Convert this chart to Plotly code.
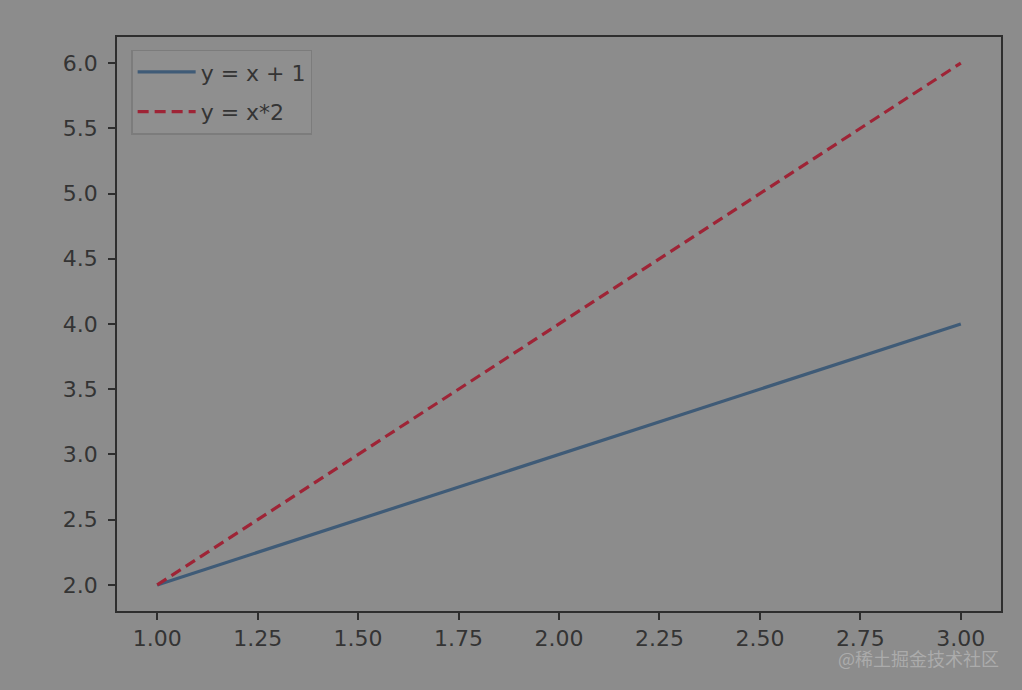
import plotly.graph_objects as go

x_vals = [1, 2, 3]
y_line1 = [2, 3, 4]
y_line2 = [2, 4, 6]
names = ["y = x + 1", "y = x*2"]
x_ticks = [1.00, 1.25, 1.50, 1.75, 2.00, 2.25, 2.50, 2.75, 3.00]
y_ticks = [2.0, 2.5, 3.0, 3.5, 4.0, 4.5, 5.0, 5.5, 6.0]
watermark = "@稀土掘金技术社区"

bg = "#8c8c8c"
ink = "#2e2e2e"
txt = "#343434"

fig = go.Figure()
fig.add_trace(go.Scatter(x=x_vals, y=y_line1, mode="lines", name=names[0], legendgroup="a",
                         line=dict(color="#3f5b77", width=3.2)))
fig.add_trace(go.Scatter(x=x_vals, y=y_line2, mode="lines", name=names[1], legendgroup="b",
                         line=dict(color="#9e2436", width=3.2, dash="11px,6px")))

axis_common = dict(showgrid=False, zeroline=False, showline=True, linecolor=ink, linewidth=1.8,
                   mirror=True, ticks="outside", ticklen=7, tickwidth=1.8, tickcolor=ink,
                   tickfont=dict(family="DejaVu Sans", size=22, color=txt))

fig.update_xaxes(range=[0.9, 3.1], tickvals=x_ticks,
                 ticktext=[f"{v:.2f}" for v in x_ticks], **axis_common)
fig.update_yaxes(range=[1.8, 6.2], tickvals=y_ticks, ticklabelstandoff=6,
                 ticktext=[f"{v:.1f}" for v in y_ticks], **axis_common)

fig.update_layout(
    width=1022, height=690,
    margin=dict(l=117, r=21, t=37, b=79),
    paper_bgcolor=bg, plot_bgcolor=bg,
    font=dict(family="DejaVu Sans", color=txt),
    legend=dict(x=0.016, y=0.978, xanchor="left", yanchor="top",
                bgcolor="#8f8f8f", bordercolor="#7c7c7c", borderwidth=1.5,
                font=dict(family="DejaVu Sans", size=22, color=txt),
                traceorder="grouped", tracegroupgap=8, itemwidth=58, entrywidth=210),
    annotations=[dict(text=watermark, xref="paper", yref="paper", x=1.0, y=-0.082,
                      xanchor="right", yanchor="middle", showarrow=False,
                      font=dict(family="Noto Sans CJK SC", size=18, color="#ababab"))],
)
fig.write_html("out.html", config={"displayModeBar": False},
               post_script="document.body.style.margin='0';document.body.style.background='#8c8c8c';")
